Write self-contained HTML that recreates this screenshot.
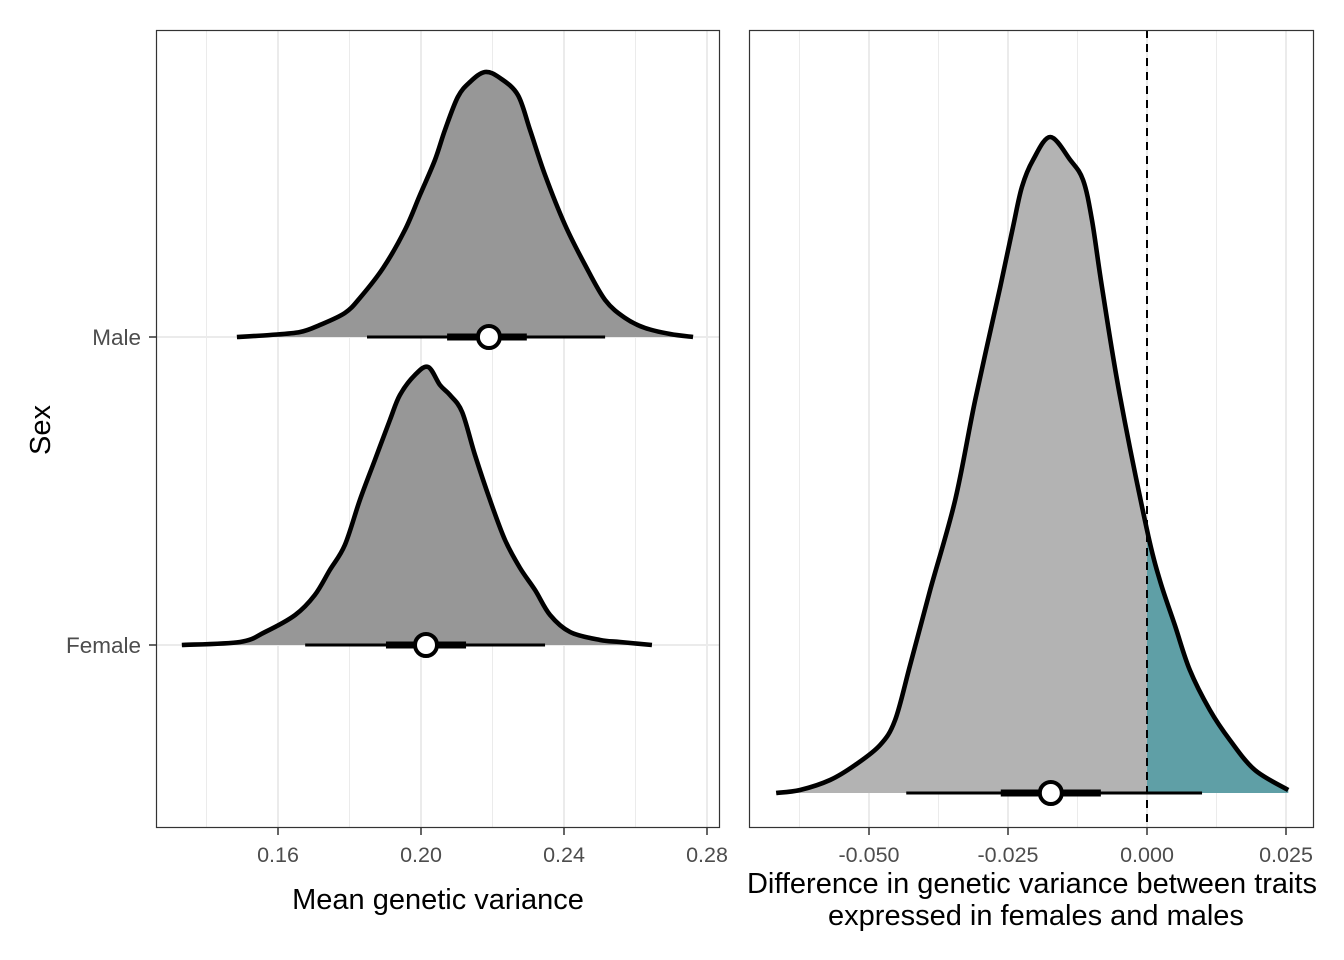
<!DOCTYPE html>
<html><head><meta charset="utf-8"><style>
html,body{margin:0;padding:0;background:#fff;}
svg{display:block;font-family:"Liberation Sans",Arial,sans-serif;}
</style></head><body>
<svg id="chart" width="1344" height="960" viewBox="0 0 1344 960"></svg>
<script>
// ---- Data ----
const leftTicks = [0.16, 0.20, 0.24, 0.28];
const leftTickLabels = ["0.16", "0.20", "0.24", "0.28"];
const leftMinor = [0.14, 0.18, 0.22, 0.26];
const categories = ["Male", "Female"];
const maleX = [0.1485,0.1578,0.1662,0.1717,0.1787,0.1829,0.1894,0.1955,0.1997,0.2039,0.2067,0.2103,0.2137,0.2179,0.2221,0.2271,0.2305,0.2347,0.2403,0.2459,0.2515,0.2571,0.2627,0.2697,0.2761];
const maleD = [0,2,5,12,24,39,69,107,142,177,207,240,255,265,259,242,207,162,112,72,37,19,9,3,0];
const femaleX = [0.1331,0.1494,0.1564,0.1648,0.1703,0.1745,0.1787,0.1829,0.1871,0.1913,0.1941,0.1983,0.2020,0.2053,0.2081,0.2115,0.2151,0.2193,0.2235,0.2277,0.2319,0.2361,0.2417,0.2501,0.2557,0.2646];
const femaleD = [0,3,13,30,50,75,100,145,185,225,250,270,278,260,250,233,190,145,105,77,55,30,13,5,3,0];
const maleInterval = [0.1849, 0.2073, 0.2190, 0.2296, 0.2515]; // lo95, lo66, point, hi66, hi95
const femaleInterval = [0.1676, 0.1902, 0.2014, 0.2126, 0.2347];
const rightTicks = [-0.05, -0.025, 0, 0.025];
const rightTickLabels = ["-0.050", "-0.025", "0.000", "0.025"];
const rightMinor = [-0.0625, -0.0375, -0.0125, 0.0125];
const diffX = [-0.0667,-0.0624,-0.0570,-0.0525,-0.0480,-0.0453,-0.0426,-0.0390,-0.0345,-0.0309,-0.0264,-0.0241,-0.0225,-0.0205,-0.0174,-0.0138,-0.0115,-0.0099,-0.0081,-0.0049,0,0.0023,0.0050,0.0077,0.0113,0.0149,0.0194,0.0254];
const diffD = [0,3,13,28,48,73,128,203,293,393,506,566,606,633,656,633,613,573,506,398,263,213,168,123,83,53,23,3];
const diffInterval = [-0.0433, -0.0263, -0.0173, -0.0083, 0.0099];

// ---- Scales ----
const L = {x0:156, x1:720, y0:30, y1:828};
const R = {x0:749, x1:1314, y0:30, y1:828};
const lx = v => 278 + (v - 0.16) / 0.04 * 143;
const rx = v => 1147 + v / 0.025 * 139;
const catY = {Male:337, Female:645};
const rBase = 793;
const rdy = d => d;

const svg = document.getElementById('chart');
const NS = 'http://www.w3.org/2000/svg';
function mk(tag, attrs, parent){
  const e = document.createElementNS(NS, tag);
  for (const k in attrs) e.setAttribute(k, attrs[k]);
  (parent||svg).appendChild(e);
  return e;
}
function smoothPath(pts){
  let d = 'M' + pts[0][0] + ',' + pts[0][1];
  for (let i=0;i<pts.length-1;i++){
    const p0=pts[Math.max(0,i-1)], p1=pts[i], p2=pts[i+1], p3=pts[Math.min(pts.length-1,i+2)];
    const c1x=p1[0]+(p2[0]-p0[0])/6, c1y=p1[1]+(p2[1]-p0[1])/6;
    const c2x=p2[0]-(p3[0]-p1[0])/6, c2y=p2[1]-(p3[1]-p1[1])/6;
    d += ` C${c1x.toFixed(2)},${c1y.toFixed(2)} ${c2x.toFixed(2)},${c2y.toFixed(2)} ${p2[0].toFixed(2)},${p2[1].toFixed(2)}`;
  }
  return d;
}
const SW = 4.6;

// ---- Left panel ----
const gL = mk('g', {});


leftMinor.forEach(v => {
  const l = mk('line', {x1:lx(v), x2:lx(v), y1:L.y0, y2:L.y1, stroke:'#ebebeb', 'stroke-width':1}, gL);
  
  
});
leftTicks.forEach(v => {
  const l = mk('line', {x1:lx(v), x2:lx(v), y1:L.y0, y2:L.y1, stroke:'#ebebeb', 'stroke-width':2}, gL);
  
  
});
categories.forEach(c => {
  const l = mk('line', {x1:L.x0, x2:L.x1, y1:catY[c], y2:catY[c], stroke:'#ebebeb', 'stroke-width':2}, gL);
  
  
});
function drawDensity(xs, ds, base, xf, fill, name, parent){
  const pts = xs.map((v,i) => [xf(v), base - ds[i]]);
  const line = smoothPath(pts);
  const area = mk('path', {d: line + ` L${pts[pts.length-1][0]},${base} L${pts[0][0]},${base} Z`, fill: fill, stroke:'none'}, parent);
  
  
  return {line, pts};
}
function drawInterval(iv, base, xf, name, parent){
  const t = mk('line', {x1:xf(iv[0]), x2:xf(iv[4]), y1:base, y2:base, stroke:'#000', 'stroke-width':3}, parent);
  
  
  const k = mk('line', {x1:xf(iv[1]), x2:xf(iv[3]), y1:base, y2:base, stroke:'#000', 'stroke-width':7}, parent);
  
  
  const p = mk('circle', {cx:xf(iv[2]), cy:base, r:11, fill:'#fff', stroke:'#000', 'stroke-width':4}, parent);
  
  
}
const maleRes = drawDensity(maleX, maleD, catY.Male, lx, '#979797', 'male-density', gL);
const ml = mk('path', {d: maleRes.line, fill:'none', stroke:'#000', 'stroke-width':SW, 'stroke-linejoin':'round'}, gL);


drawInterval(maleInterval, catY.Male, lx, 'male', gL);
const femRes = drawDensity(femaleX, femaleD, catY.Female, lx, '#979797', 'female-density', gL);
const fl = mk('path', {d: femRes.line, fill:'none', stroke:'#000', 'stroke-width':SW, 'stroke-linejoin':'round'}, gL);


drawInterval(femaleInterval, catY.Female, lx, 'female', gL);
const bL = mk('rect', {x:L.x0+0.5, y:L.y0+0.5, width:L.x1-L.x0-1, height:L.y1-L.y0-1, fill:'none', stroke:'#333', 'stroke-width':1.2}, gL);


leftTicks.forEach((v,i) => {
  const t = mk('line', {x1:lx(v), x2:lx(v), y1:L.y1, y2:L.y1+7, stroke:'#333', 'stroke-width':1.5}, gL);
  
  
  const tx = mk('text', {x:lx(v), y:862, 'text-anchor':'middle', 'font-size':21.5, fill:'#4d4d4d'}, gL);
  tx.textContent = leftTickLabels[i];
  
  
});
categories.forEach(c => {
  const t = mk('line', {x1:L.x0-7, x2:L.x0, y1:catY[c], y2:catY[c], stroke:'#333', 'stroke-width':1.5}, gL);
  
  
  const tx = mk('text', {x:141, y:catY[c]+8, 'text-anchor':'end', 'font-size':22.5, fill:'#4d4d4d'}, gL);
  tx.textContent = c;
  
  
});
const xtL = mk('text', {x:438, y:909, 'text-anchor':'middle', 'font-size':29, fill:'#000'}, gL);
xtL.textContent = 'Mean genetic variance';


const ytL = mk('text', {x:0, y:0, 'text-anchor':'middle', 'font-size':29, fill:'#000', transform:'translate(50,430) rotate(-90)'}, gL);
ytL.textContent = 'Sex';



// ---- Right panel ----
const gR = mk('g', {});


rightMinor.forEach(v => {
  const l = mk('line', {x1:rx(v), x2:rx(v), y1:R.y0, y2:R.y1, stroke:'#ebebeb', 'stroke-width':1}, gR);
  
  
});
rightTicks.forEach(v => {
  const l = mk('line', {x1:rx(v), x2:rx(v), y1:R.y0, y2:R.y1, stroke:'#ebebeb', 'stroke-width':2}, gR);
  
  
});
const defs = mk('defs', {});
const cp = mk('clipPath', {id:'posclip'}, defs);
mk('rect', {x:rx(0), y:0, width:1344, height:960}, cp);
const dPts = diffX.map((v,i) => [rx(v), rBase - rdy(diffD[i])]);
const dLine = smoothPath(dPts);
const dArea = dLine + ` L${dPts[dPts.length-1][0]},${rBase} L${dPts[0][0]},${rBase} Z`;
const a1 = mk('path', {d:dArea, fill:'#b3b3b3'}, gR);


const a2 = mk('path', {d:dArea, fill:'#5f9fa6', 'clip-path':'url(#posclip)'}, gR);


const zl = mk('line', {x1:rx(0), x2:rx(0), y1:R.y0, y2:R.y1, stroke:'#000', 'stroke-width':2, 'stroke-dasharray':'8,6'}, gR);


const dl = mk('path', {d:dLine, fill:'none', stroke:'#000', 'stroke-width':SW, 'stroke-linejoin':'round'}, gR);


drawInterval(diffInterval, rBase, rx, 'difference', gR);
const bR = mk('rect', {x:R.x0+0.5, y:R.y0+0.5, width:R.x1-R.x0-1, height:R.y1-R.y0-1, fill:'none', stroke:'#333', 'stroke-width':1.2}, gR);


rightTicks.forEach((v,i) => {
  const t = mk('line', {x1:rx(v), x2:rx(v), y1:R.y1, y2:R.y1+7, stroke:'#333', 'stroke-width':1.5}, gR);
  
  
  const tx = mk('text', {x:rx(v), y:862, 'text-anchor':'middle', 'font-size':21.5, fill:'#4d4d4d'}, gR);
  tx.textContent = rightTickLabels[i];
  
  
});
const xtR1 = mk('text', {x:1032, y:893, 'text-anchor':'middle', 'font-size':29, fill:'#000'}, gR);
xtR1.textContent = 'Difference in genetic variance between traits';


const xtR2 = mk('text', {x:1036, y:925, 'text-anchor':'middle', 'font-size':29, fill:'#000'}, gR);
xtR2.textContent = 'expressed in females and males';


</script>
</body></html>
